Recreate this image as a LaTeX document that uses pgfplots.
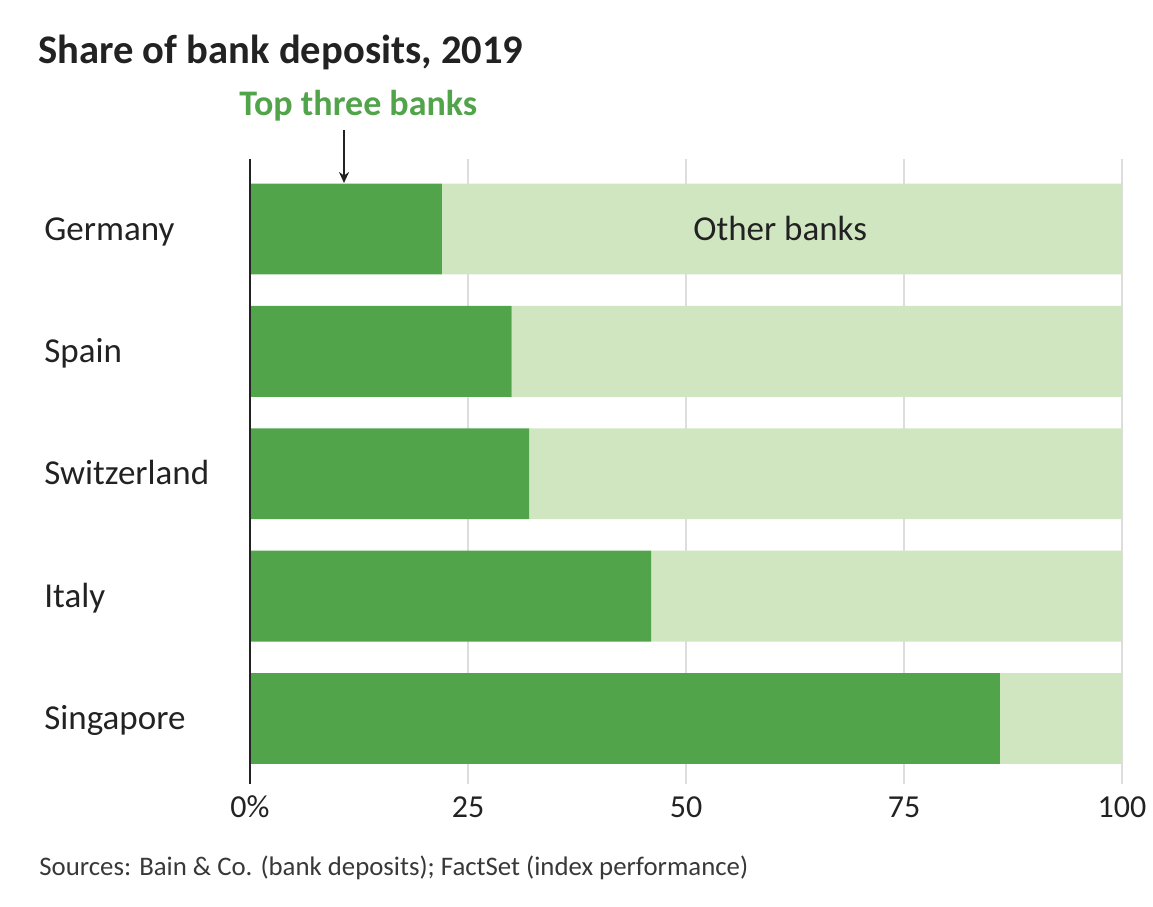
\documentclass[border=0pt]{standalone}
\usepackage{pgfplots}
\pgfplotsset{compat=1.18}
\usetikzlibrary{arrows.meta}
\usepackage{fontspec}
\setmainfont{Carlito}
\definecolor{topg}{HTML}{52A44B}
\definecolor{othg}{HTML}{CFE6C0}
\definecolor{gridc}{HTML}{DDDDDD}
\definecolor{txt}{HTML}{222222}
\tikzset{cty/.style={anchor=base west, text=txt, inner sep=0pt, font=\fontsize{17.5bp}{21bp}\selectfont}}
\begin{document}
\begin{tikzpicture}
\path[use as bounding box] (0,0) rectangle (576.5bp,-453.5bp);
\begin{axis}[
  at={(125bp,-79.5bp)}, anchor=north west,
  scale only axis, width=436bp, height=312.5bp,
  xbar stacked, bar width=0.743,
  xmin=0, xmax=100, ymin=-0.535, ymax=4.572,
  xtick={0,25,50,75,100}, xticklabels={0\%,25,50,75,100},
  ytick=\empty,
  xmajorgrids, major grid style={gridc, line width=1bp},
  axis line style={draw=none},
  major tick length=0pt,
  /pgf/number format/assume math mode=true,
  xticklabel style={anchor=base, yshift=-16.5bp, font=\fontsize{16bp}{20bp}\selectfont, text=txt, inner sep=0pt},
  clip=false,
]
\addplot[fill=topg, draw=none] coordinates {(86,0) (46,1) (32,2) (30,3) (22,4)};
\addplot[fill=othg, draw=none] coordinates {(14,0) (54,1) (68,2) (70,3) (78,4)};
\coordinate (ob) at (axis cs:60.8,4);
\coordinate (at) at (axis cs:0,4.572);
\coordinate (ab) at (axis cs:0,-0.535);
\coordinate (c4) at (axis cs:0,4);
\coordinate (c3) at (axis cs:0,3);
\coordinate (c2) at (axis cs:0,2);
\coordinate (c1) at (axis cs:0,1);
\coordinate (c0) at (axis cs:0,0);
\end{axis}
\draw[txt, line width=1.1bp] (at) -- (ab);
\node[anchor=base, inner sep=0pt, text=txt, font=\fontsize{17.5bp}{21bp}\selectfont] at ([yshift=-5.6bp]ob) {Other banks};
\node[cty] at ([xshift=-103bp,yshift=-5.6bp]c4) {Germany};
\node[cty] at ([xshift=-103bp,yshift=-5.6bp]c3) {Spain};
\node[cty] at ([xshift=-103bp,yshift=-5.6bp]c2) {Switzerland};
\node[cty] at ([xshift=-103bp,yshift=-5.6bp]c1) {Italy};
\node[cty] at ([xshift=-103bp,yshift=-5.6bp]c0) {Singapore};
\node[anchor=base west, inner sep=0pt, text=txt, font=\bfseries\fontsize{20.3bp}{24bp}\selectfont] at (19bp,-31.5bp) {Share of bank deposits, 2019};
\node[anchor=base west, inner sep=0pt, text=topg, font=\bfseries\fontsize{18bp}{22bp}\selectfont] at (119.5bp,-57.5bp) {Top three banks};
\draw[txt, line width=0.9bp, -{Stealth[length=5.5bp,width=5bp]}] (172bp,-65bp) -- (172bp,-91.5bp);
\node[anchor=base west, inner sep=0pt, text=txt!90, font=\fontsize{13.4bp}{16bp}\selectfont] at (19.5bp,-437.5bp) {Sources: Bain \& Co. (bank deposits); FactSet (index performance)};
\end{tikzpicture}
\end{document}
